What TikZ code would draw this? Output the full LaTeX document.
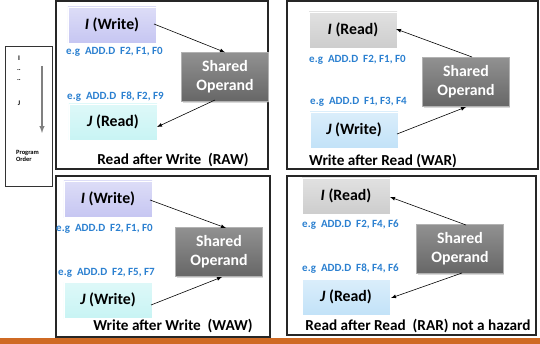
\documentclass[tikz,border=0pt]{standalone}
\usepackage{fontspec}
\setmainfont{Carlito}
\usetikzlibrary{arrows}
\usetikzlibrary{shadows}

\definecolor{wpurple}{HTML}{C6C6F2}
\definecolor{wcyan}{HTML}{C8F4F4}
\definecolor{rgray}{HTML}{CDCDCD}
\definecolor{rblue}{HTML}{C2E2F8}
\definecolor{opgray}{HTML}{6C6C6C}
\definecolor{egblue}{HTML}{2B80D0}
\definecolor{barorange}{HTML}{CF6A24}

\begin{document}
\begin{tikzpicture}[x=0.03cm,y=-0.03cm]
	\tikzstyle{instr} = [rectangle,minimum width=2.64cm,minimum height=1.08cm,inner sep=0pt,font=\bfseries\fontsize{13.5}{15}\selectfont,draw=white,line width=0.6pt,drop shadow={opacity=0.25,shadow xshift=0.6pt,shadow yshift=-0.8pt}]
	\tikzstyle{shared} = [rectangle,minimum width=2.6cm,minimum height=1.46cm,inner sep=0pt,align=center,text=white,font=\bfseries\fontsize{13.5}{16}\selectfont,top color=opgray!75,bottom color=opgray!95!black,draw=gray!60,line width=0.6pt,drop shadow={opacity=0.3,shadow xshift=0.8pt,shadow yshift=-1pt}]
	\tikzstyle{eg} = [anchor=west,inner sep=0pt,text=egblue,font=\bfseries\fontsize{9.4}{10}\selectfont]
	\tikzstyle{title} = [inner sep=0pt,font=\bfseries\fontsize{13}{15}\selectfont]
	\tikzstyle{panel} = [draw=black!85,line width=0.9pt]
	\tikzstyle{dep} = [->,>=latex,line width=0.5pt]

	\useasboundingbox (0,0) rectangle (540,344);

	% program order
	\draw[draw=black!80,line width=0.8pt] (5,46) rectangle (52,186);
	\node[font=\bfseries\fontsize{6}{7}\selectfont] at (19,58) (pi) {I};
	\node[font=\bfseries\fontsize{6}{7}\selectfont] at (19,70) (pd1) {..};
	\node[font=\bfseries\fontsize{6}{7}\selectfont] at (19,80) (pd2) {..};
	\node[font=\bfseries\fontsize{6}{7}\selectfont] at (19,103) (pj) {J};
	\coordinate (ptop) at (42,66);
	\coordinate (pbot) at (42,133);
	\draw[->,>=latex,draw=gray,line width=1pt] (ptop) -- (pbot);
	\node[align=left,font=\bfseries\fontsize{5.5}{6.5}\selectfont,anchor=west] at (12,156) (porder) {Program\\Order};

	% panels
	\draw[panel] (56,1) rectangle (268,169);
	\draw[panel] (287,1) rectangle (538,169);
	\draw[panel] (56,176) rectangle (270,337);
	\draw[panel] (287,176) rectangle (536,335);

	% RAW
	\node[instr,top color=wpurple!60,bottom color=wpurple] at (112,25) (iw1) {\textit{I} (Write)};
	\node[eg] at (66,52) (eg1a) {e.g\ \ ADD.D\ \ F2, F1, F0};
	\node[shared] at (225,77) (sh1) {Shared\\Operand};
	\node[eg] at (67,97) (eg1b) {e.g\ \ ADD.D\ \ F8, F2, F9};
	\node[instr,top color=wcyan!60,bottom color=wcyan] at (113,122) (jr1) {\textit{J} (Read)};
	\node[title] at (173,160) (t1) {Read after Write\ \ (RAW)};
	\draw[dep] (154,24) -- (sh1.north);
	\draw[dep] (215,100) -- (157,127);

	% WAR
	\node[instr,top color=rgray!60,bottom color=rgray] at (353,30) (ir2) {\textit{I} (Read)};
	\node[eg] at (309,60) (eg2a) {e.g\ \ ADD.D\ \ F2, F1, F0};
	\node[shared] at (466,82) (sh2) {Shared\\Operand};
	\node[eg] at (310,102) (eg2b) {e.g\ \ ADD.D\ \ F1, F3, F4};
	\node[instr,top color=rblue!60,bottom color=rblue] at (354,130) (jw2) {\textit{J} (Write)};
	\node[title] at (383,161) (t2) {Write after Read (WAR)};
	\draw[dep] (472,57) -- (396,29);
	\draw[dep] (397,134) -- (466,107);

	% WAW
	\node[instr,top color=wpurple!60,bottom color=wpurple] at (108,199) (iw3) {\textit{I} (Write)};
	\node[eg] at (56,229) (eg3a) {e.g\ \ ADD.D\ \ F2, F1, F0};
	\node[shared] at (219,252) (sh3) {Shared\\Operand};
	\node[eg] at (58,273) (eg3b) {e.g\ \ ADD.D\ \ F2, F5, F7};
	\node[instr,top color=wcyan!60,bottom color=wcyan] at (108,300) (jw3) {\textit{J} (Write)};
	\node[title] at (173,326) (t3) {Write after Write\ \ (WAW)};
	\draw[dep] (150,200) -- (226,228);
	\draw[dep] (151,305) -- (222,277);

	% RAR
	\node[instr,top color=rgray!60,bottom color=rgray] at (346,196) (ir4) {\textit{I} (Read)};
	\node[eg] at (302,225) (eg4a) {e.g\ \ ADD.D\ \ F2, F4, F6};
	\node[shared] at (460,249) (sh4) {Shared\\Operand};
	\node[eg] at (302,269) (eg4b) {e.g\ \ ADD.D\ \ F8, F4, F6};
	\node[instr,top color=rblue!60,bottom color=rblue] at (346,297) (jr4) {\textit{J} (Read)};
	\node[title] at (418,326) (t4) {Read after Read\ \ (RAR) not a hazard};
	\draw[dep] (466,225) -- (390,197);
	\draw[dep] (462,273) -- (391,298);

	% footer bar
	\fill[barorange] (0,338) rectangle (540,344);
\end{tikzpicture}
\end{document}
